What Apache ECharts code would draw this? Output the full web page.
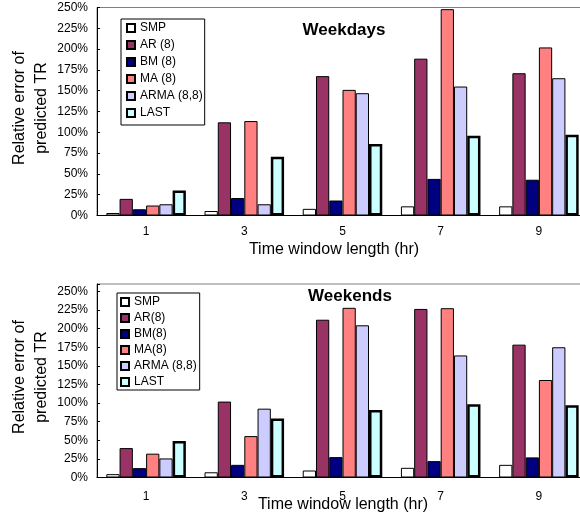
<!DOCTYPE html>
<html>
<head>
<meta charset="utf-8">
<script src="https://cdn.jsdelivr.net/npm/echarts@6/dist/echarts.min.js"></script>
<style>html,body{margin:0;padding:0;background:#fff;overflow:hidden;width:580px;height:520px;}#c{width:600px;height:520px;}</style>
</head>
<body>
<div id="c"></div>
<script>
var categories = ['1', '3', '5', '7', '9'];
var yTicks = [0, 0.25, 0.5, 0.75, 1, 1.25, 1.5, 1.75, 2, 2.25, 2.5];

var weekdayNames = ['SMP', 'AR (8)', 'BM (8)', 'MA (8)', 'ARMA (8,8)', 'LAST'];
var weekendNames = ['SMP', 'AR(8)', 'BM(8)', 'MA(8)', 'ARMA (8,8)', 'LAST'];

// Weekdays (fractions)
var wdSMP  = [0.03, 0.054, 0.08, 0.11, 0.11];
var wdAR   = [0.20, 1.12, 1.675, 1.885, 1.71];
var wdBM   = [0.075, 0.21, 0.18, 0.44, 0.43];
var wdMA   = [0.12, 1.135, 1.51, 2.48, 2.02];
var wdARMA = [0.135, 0.135, 1.47, 1.55, 1.65];
var wdLAST = [0.30, 0.705, 0.86, 0.96, 0.97];

// Weekends (fractions)
var weSMP  = [0.045, 0.07, 0.094, 0.13, 0.17];
var weAR   = [0.395, 1.02, 2.12, 2.265, 1.785];
var weBM   = [0.126, 0.17, 0.274, 0.22, 0.27];
var weMA   = [0.32, 0.556, 2.28, 2.275, 1.31];
var weARMA = [0.256, 0.925, 2.045, 1.64, 1.75];
var weLAST = [0.49, 0.794, 0.907, 0.983, 0.97];

var colors = ['#FFFFFF', '#993366', '#000080', '#FF8080', '#CCCCFF', '#CCFFFF'];
var borderWidths = [1, 1, 1, 1, 1, 2.5];
var FONT = 'Arial, "Liberation Sans", sans-serif';

var wdData = [wdSMP, wdAR, wdBM, wdMA, wdARMA, wdLAST];
var weData = [weSMP, weAR, weBM, weMA, weARMA, weLAST];

function makeSeries(names, data, axisIndex) {
  return names.map(function (n, i) {
    return {
      name: n,
      type: 'bar',
      xAxisIndex: axisIndex,
      yAxisIndex: axisIndex,
      data: data[i],
      barGap: '0%',
      barCategoryGap: '19%',
      itemStyle: { color: colors[i], borderColor: '#000', borderWidth: borderWidths[i] },
      emphasis: { disabled: true },
      animation: false
    };
  });
}

function yAxis(idx, max) {
  return {
    type: 'value', gridIndex: idx, min: 0, max: max, interval: 0.25,
    axisLine: { show: true, lineStyle: { color: '#000', width: 1 } },
    axisTick: { show: true, inside: true, length: 3, lineStyle: { color: '#000' } },
    splitLine: { show: false },
    axisLabel: {
      color: '#000', fontFamily: FONT, fontSize: 12, margin: 9,
      formatter: function (v) { return v > 2.5001 ? '' : Math.round(v * 100) + '%'; }
    }
  };
}

function xAxis(idx, margin) {
  return {
    type: 'category', gridIndex: idx, data: categories,
    axisLine: { show: true, lineStyle: { color: '#000', width: 1 } },
    axisTick: { show: false },
    axisLabel: { color: '#000', fontFamily: FONT, fontSize: 12, margin: margin }
  };
}

function legend(names, left, top, lh, gap, pad) {
  return {
    orient: 'vertical', left: left, top: top,
    data: names.map(function (n) { return { name: n, icon: 'rect' }; }),
    itemWidth: 8, itemHeight: 8, itemGap: gap, itemTextGap: 3,
    padding: pad,
    backgroundColor: '#fff', borderColor: '#000', borderWidth: 1,
    selectedMode: false,
    textStyle: { color: '#000', fontFamily: FONT, fontSize: 12, lineHeight: lh }
  };
}

var chart = echarts.init(document.getElementById('c'), null, { renderer: 'canvas' });
chart.setOption({
  animation: false,
  backgroundColor: '#fff',
  grid: [
    { left: 97, top: 7.5, width: 491, height: 208, show: true, borderColor: '#808080', borderWidth: 1 },
    { left: 97, top: 284, width: 491, height: 193.5, show: true, borderColor: '#808080', borderWidth: 1 }
  ],
  xAxis: [xAxis(0, 10), xAxis(1, 13)],
  yAxis: [yAxis(0, 2.5), yAxis(1, 2.6)],
  legend: [
    legend(weekdayNames, 121, 19, 14, 3, [2, 2, 5, 5]),
    legend(weekendNames, 117, 293, 14, 2, [2, 3, 1, 3])
  ],
  series: makeSeries(weekdayNames, wdData, 0).concat(makeSeries(weekendNames, weData, 1)),
  graphic: [
    { type: 'text', x: 344, y: 30, style: { text: 'Weekdays', font: 'bold 17px ' + FONT, fill: '#000', textAlign: 'center', textVerticalAlign: 'middle' } },
    { type: 'text', x: 350, y: 296, style: { text: 'Weekends', font: 'bold 17px ' + FONT, fill: '#000', textAlign: 'center', textVerticalAlign: 'middle' } },
    { type: 'text', x: 334, y: 250, style: { text: 'Time window length (hr)', font: '16px ' + FONT, fill: '#000', textAlign: 'center', textVerticalAlign: 'middle' } },
    { type: 'text', x: 343, y: 505, style: { text: 'Time window length (hr)', font: '16px ' + FONT, fill: '#000', textAlign: 'center', textVerticalAlign: 'middle' } },
    { type: 'text', x: 31, y: 108, rotation: Math.PI / 2, style: { text: 'Relative error of\npredicted TR', font: '16px ' + FONT, lineHeight: 22, fill: '#000', textAlign: 'center', textVerticalAlign: 'middle' } },
    { type: 'text', x: 31, y: 377, rotation: Math.PI / 2, style: { text: 'Relative error of\npredicted TR', font: '16px ' + FONT, lineHeight: 22, fill: '#000', textAlign: 'center', textVerticalAlign: 'middle' } }
  ]
});
</script>
</body>
</html>
